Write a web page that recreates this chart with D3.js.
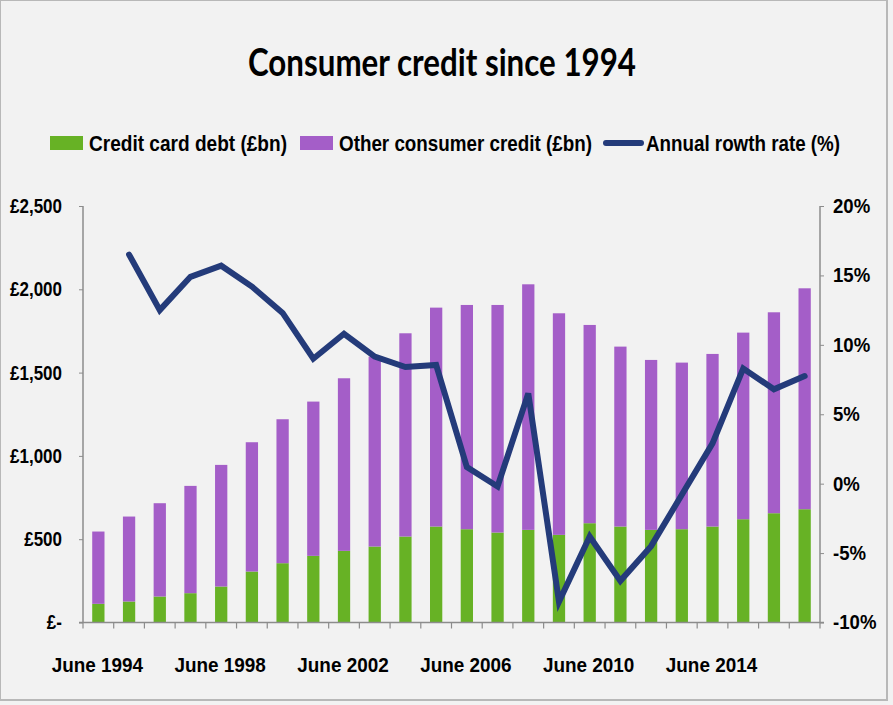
<!DOCTYPE html>
<html><head><meta charset="utf-8">
<script src="https://cdn.jsdelivr.net/npm/d3@7"></script>
<style>
html,body{margin:0;padding:0;background:#f2f2f2;}
svg{display:block;}
</style></head>
<body>
<svg id="chart" width="893" height="705"></svg>
<script>
const years = d3.range(1994, 2018);
const categories = years.map(y => "June " + y);
const creditCard = [112,126,156,176,216,306,356,400,430,456,516,576,560,540,556,526,596,576,556,560,576,620,656,680];
const totalCredit = [546,636,716,820,946,1082,1220,1326,1466,1596,1736,1890,1906,1906,2030,1856,1786,1656,1576,1560,1612,1740,1862,2006];
const otherCredit = totalCredit.map((t,i) => t - creditCard[i]);
const growthRate = [null,16.5,12.5,14.9,15.7,14.2,12.3,9.0,10.8,9.15,8.4,8.55,1.2,-0.2,6.5,-8.5,-3.8,-7.0,-4.5,-0.8,2.9,8.3,6.8,7.75];
const leftTicks = [0,500,1000,1500,2000,2500];
const leftTickLabels = ["£-","£500","£1,000","£1,500","£2,000","£2,500"];
const rightTicks = [-10,-5,0,5,10,15,20];
const xLabelEvery = 4;

const svg = d3.select("#chart");
const font = "'Liberation Sans Narrow','Arial Narrow','Liberation Sans',sans-serif";
const green = "#67b225", purple = "#a45ec8", navy = "#243b7a";

function squeeze(sel, k){
  sel.each(function(){
    const w = this.getComputedTextLength();
    d3.select(this).attr("textLength", w*k).attr("lengthAdjust","spacingAndGlyphs");
  });
}

svg.append("rect").attr("x",0).attr("y",0).attr("width",887).attr("height",700)
  .attr("fill","#f2f2f2").attr("stroke","#b8b8b8").attr("stroke-width",2);

const x = d3.scaleBand().domain(categories).range([83, 820]).paddingInner(0.6).paddingOuter(0.3);
const xb = d3.scaleBand().domain(categories).range([83, 820]);
const yL = d3.scaleLinear().domain([0,2500]).range([622.5, 206]);
const yR = d3.scaleLinear().domain([-10,20]).range([622.5, 206]);

// title
svg.append("text").attr("x",442).attr("y",76).attr("text-anchor","middle")
  .attr("font-family","Lato,'Open Sans',sans-serif").attr("font-weight","bold").attr("font-size",38)
  .attr("textLength",388).attr("lengthAdjust","spacingAndGlyphs")
  .attr("fill","#000").text("Consumer credit since 1994");

// legend
const lg = svg.append("g").attr("font-family",font).attr("font-weight","bold").attr("font-size",22).attr("fill","#000");
lg.append("rect").attr("x",50).attr("y",136).attr("width",33).attr("height",14).attr("fill",green);
lg.append("text").attr("x",89).attr("y",151).attr("textLength",198).attr("lengthAdjust","spacingAndGlyphs").text("Credit card debt (£bn)");
lg.append("rect").attr("x",300).attr("y",136).attr("width",33).attr("height",14).attr("fill",purple);
lg.append("text").attr("x",339).attr("y",151).attr("textLength",253).attr("lengthAdjust","spacingAndGlyphs").text("Other consumer credit (£bn)");
lg.append("line").attr("x1",606).attr("x2",641).attr("y1",143).attr("y2",143).attr("stroke",navy).attr("stroke-width",6).attr("stroke-linecap","round");
lg.append("text").attr("x",646).attr("y",151).attr("textLength",194).attr("lengthAdjust","spacingAndGlyphs").text("Annual rowth rate (%)");

// bars
const g = svg.append("g");
g.selectAll("rect.cc").data(categories).enter().append("rect").attr("class","cc")
  .attr("x",d=>x(d)).attr("width",x.bandwidth())
  .attr("y",(d,i)=>yL(creditCard[i])).attr("height",(d,i)=>yL(0)-yL(creditCard[i])).attr("fill",green);
g.selectAll("rect.oc").data(categories).enter().append("rect").attr("class","oc")
  .attr("x",d=>x(d)).attr("width",x.bandwidth())
  .attr("y",(d,i)=>yL(creditCard[i]+otherCredit[i])).attr("height",(d,i)=>yL(creditCard[i])-yL(creditCard[i]+otherCredit[i])).attr("fill",purple);

// axes
const axisColor = "#8c8c8c";
const leftAxis = svg.append("g").attr("transform","translate(83,0)")
  .call(d3.axisLeft(yL).tickValues(leftTicks).tickSize(4).tickFormat((d,i)=>leftTickLabels[i]));
leftAxis.select(".domain").attr("stroke",axisColor).attr("stroke-width",1.5).attr("d","M0,206V622.5");
leftAxis.selectAll(".tick line").attr("stroke",axisColor);
leftAxis.selectAll("text").attr("font-family",font).attr("font-weight","bold").attr("font-size",20).attr("fill","#000").attr("x",-21);
squeeze(leftAxis.selectAll("text"), 0.85);

const rightAxis = svg.append("g").attr("transform","translate(820,0)")
  .call(d3.axisRight(yR).tickValues(rightTicks).tickSize(4).tickFormat(d=>d+"%"));
rightAxis.select(".domain").attr("stroke",axisColor).attr("stroke-width",1.5).attr("d","M0,206V622.5");
rightAxis.selectAll(".tick line").attr("stroke",axisColor);
rightAxis.selectAll("text").attr("font-family",font).attr("font-weight","bold").attr("font-size",20).attr("fill","#000").attr("x",13);
squeeze(rightAxis.selectAll("text"), 0.93);

// bottom axis
const bottom = svg.append("g").attr("transform","translate(0,622.5)");
bottom.append("line").attr("x1",79).attr("x2",824).attr("y1",0).attr("y2",0).attr("stroke",axisColor).attr("stroke-width",1.5);
bottom.selectAll("line.tk").data(categories.concat(["end"])).enter().append("line").attr("class","tk")
  .attr("x1",(d,i)=> i<categories.length ? xb(d) : xb.range()[1])
  .attr("x2",(d,i)=> i<categories.length ? xb(d) : xb.range()[1])
  .attr("y1",0).attr("y2",6).attr("stroke",axisColor).attr("stroke-width",1.2);
const xl = bottom.selectAll("text").data(categories.filter((d,i)=>i%xLabelEvery===0)).enter().append("text")
  .attr("x",d=>x(d)+x.bandwidth()/2-1).attr("y",49).attr("text-anchor","middle")
  .attr("font-family",font).attr("font-weight","bold").attr("font-size",21).attr("fill","#000").text(d=>d);
squeeze(xl, 0.9);

// line
const line = d3.line().defined(d=>d.v!==null).x(d=>x(d.c)+x.bandwidth()/2).y(d=>yR(d.v));
svg.append("path").datum(categories.map((c,i)=>({c, v:growthRate[i]})))
  .attr("d",line).attr("fill","none").attr("stroke",navy).attr("stroke-width",6)
  .attr("stroke-linejoin","miter").attr("stroke-linecap","round");
</script>
</body></html>
